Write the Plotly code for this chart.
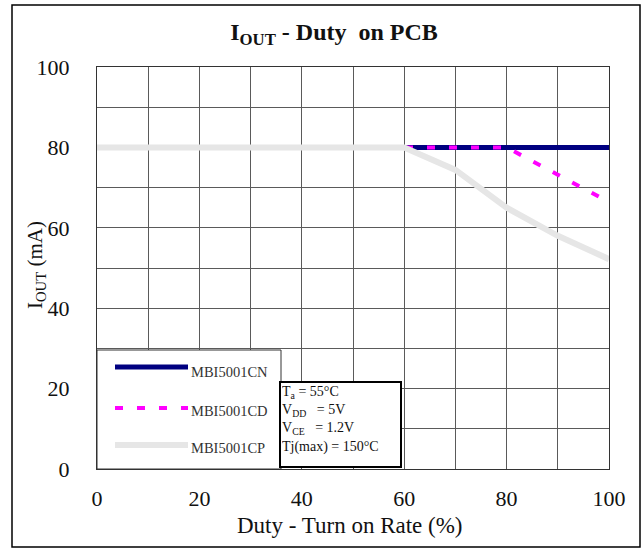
import plotly.graph_objects as go

duty = [0, 10, 20, 30, 40, 50, 60, 70, 80, 90, 100]
iout_cn = [80, 80, 80, 80, 80, 80, 80, 80, 80, 80, 80]
iout_cd = [80, 80, 80, 80, 80, 80, 80, 80, 80, 73.2, 66.4]
iout_cp = [80, 80, 80, 80, 80, 80, 80, 74.4, 65, 58, 52.2]
series_names = ["MBI5001CN", "MBI5001CD", "MBI5001CP"]
x_ticks = [0, 20, 40, 60, 80, 100]
y_ticks = [0, 20, 40, 60, 80, 100]
cond_lines = ["T<sub>a</sub> = 55°C", "V<sub>DD</sub> &nbsp; = 5V",
              "V<sub>CE</sub> &nbsp; = 1.2V", "Tj(max) = 150°C"]

FONT = "Liberation Serif, Times New Roman, serif"
W, H = 643, 550
L, R, T, B = 97, 34, 67, 81
PW, PH = W - L - R, H - T - B


def px(x):
    return (x - L) / PW


def py(y):
    return (H - B - y) / PH


fig = go.Figure()
fig.add_trace(go.Scatter(x=duty, y=iout_cn, mode="lines", name=series_names[0],
                         line=dict(color="#000080", width=5), showlegend=False))
fig.add_trace(go.Scatter(x=duty, y=iout_cd, mode="lines", name=series_names[1],
                         line=dict(color="#FF00FF", width=4, dash="8px,14px"), showlegend=False))
fig.add_trace(go.Scatter(x=duty, y=iout_cp, mode="lines", name=series_names[2],
                         line=dict(color="#E6E6E6", width=6), showlegend=False))

grid = "#5a5a5a"
tickfont = dict(family=FONT, size=22, color="#111")
fig.update_xaxes(range=[0, 100], tickvals=x_ticks, showgrid=True, gridcolor=grid, gridwidth=1,
                 minor=dict(dtick=10, showgrid=True, gridcolor=grid, gridwidth=1),
                 showline=True, linecolor="#333", linewidth=1, mirror=True,
                 zeroline=False, ticks="", ticklabelstandoff=10, tickfont=tickfont)
fig.update_yaxes(range=[0, 100], tickvals=y_ticks, showgrid=True, gridcolor=grid, gridwidth=1,
                 minor=dict(dtick=10, showgrid=True, gridcolor=grid, gridwidth=1),
                 showline=True, linecolor="#333", linewidth=1, mirror=True,
                 zeroline=False, ticks="", ticklabelstandoff=22, tickfont=tickfont)

shapes = []
# outer frame
shapes.append(dict(type="rect", xref="paper", yref="paper",
                   x0=px(12), x1=px(640), y0=py(547), y1=py(5),
                   line=dict(color="black", width=1.5), layer="below"))
# legend box
shapes.append(dict(type="rect", xref="paper", yref="paper",
                   x0=0, x1=px(281), y0=0, y1=py(350),
                   line=dict(color="#333", width=1), fillcolor="white", layer="above"))
leg_styles = [dict(color="#000080", width=5), dict(color="#FF00FF", width=4, dash="8px,14px"),
              dict(color="#E6E6E6", width=6)]
leg_line_y = [367, 408, 445]
leg_text_y = [372, 411, 448]
for st, ly in zip(leg_styles, leg_line_y):
    shapes.append(dict(type="line", xref="paper", yref="paper",
                       x0=px(115), x1=px(188), y0=py(ly), y1=py(ly),
                       line=st, layer="above"))

annotations = []
for name, ty in zip(series_names, leg_text_y):
    annotations.append(dict(text=name, xref="paper", yref="paper", x=px(189), y=py(ty),
                            xanchor="left", yanchor="middle", showarrow=False,
                            font=dict(family=FONT, size=14.5, color="#333")))
annotations.append(dict(text="<br>".join(cond_lines), xref="paper", yref="paper",
                        x=px(279), y=py(381), xanchor="left", yanchor="top", showarrow=False,
                        align="left", valign="top", width=117, height=81, borderpad=1,
                        bordercolor="black", borderwidth=2, bgcolor="white",
                        font=dict(family=FONT, size=14, color="#111")))
annotations.append(dict(text="I<sub>OUT</sub> (mA)", xref="paper", yref="paper",
                        x=px(36), y=py(265), xanchor="center", yanchor="middle",
                        textangle=-90, showarrow=False,
                        font=dict(family=FONT, size=21, color="#111")))
annotations.append(dict(text="Duty - Turn on Rate (%)", xref="paper", yref="paper",
                        x=px(350), y=py(525), xanchor="center", yanchor="middle",
                        showarrow=False, font=dict(family=FONT, size=23, color="#111")))

fig.update_layout(
    width=W, height=H, margin=dict(l=L, r=R, t=T, b=B),
    paper_bgcolor="white", plot_bgcolor="white",
    font=dict(family=FONT, color="#111"),
    title=dict(text="<b>I<sub>OUT</sub> - Duty&nbsp; on PCB</b>", x=334 / W, y=1 - 32 / H,
               xref="container", yref="container", xanchor="center", yanchor="middle",
               font=dict(family=FONT, size=24, color="#111")),
    shapes=shapes, annotations=annotations, showlegend=False,
)

fig.write_html("out.html")
